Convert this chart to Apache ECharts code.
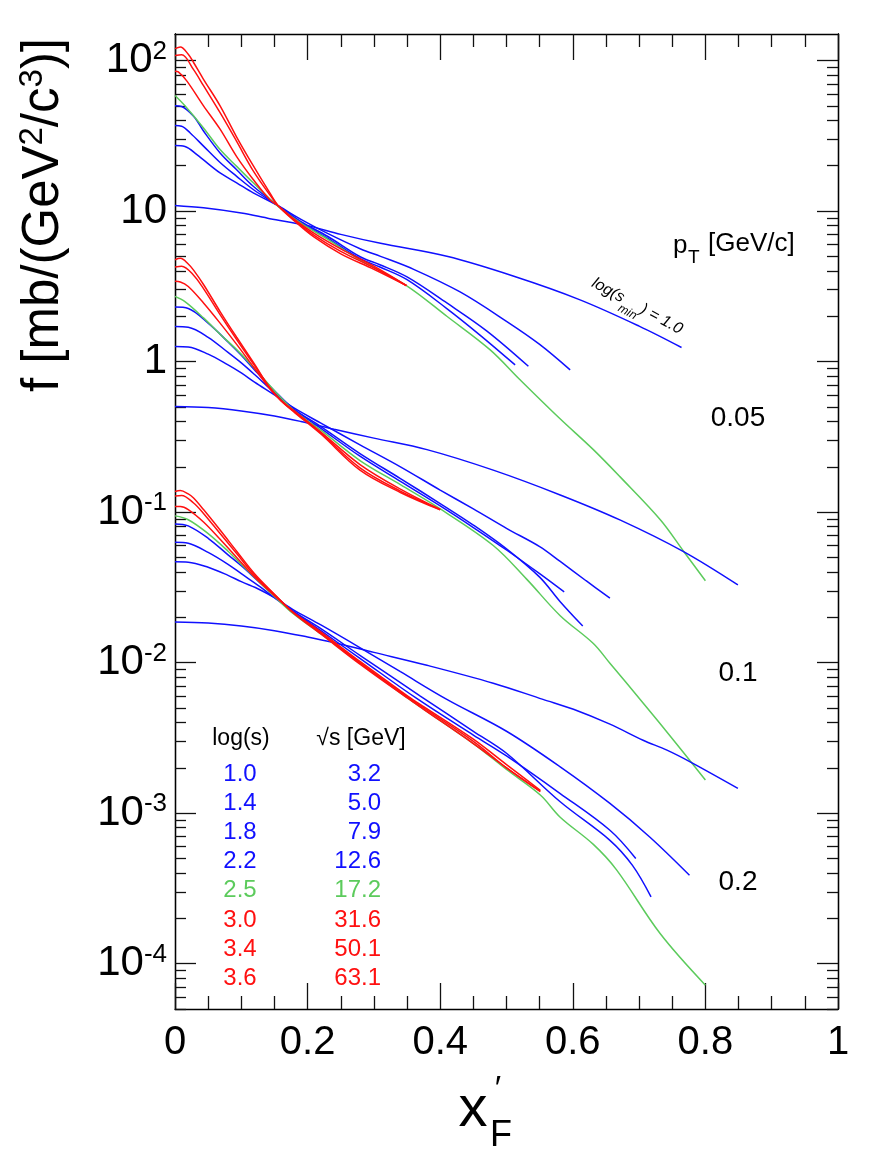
<!DOCTYPE html>
<html>
<head>
<meta charset="utf-8">
<script src="https://cdn.jsdelivr.net/npm/echarts@6/dist/echarts.min.js"></script>
<style>
  html, body { margin: 0; padding: 0; background: #fff; }
  #chart { width: 872px; height: 1160px; }
</style>
</head>
<body>
<div id="chart"></div>
<script>
// colours used by ROOT for the three energy classes
const BLUE = '#1010ff';
const GREEN = '#5ccb5c';
const RED = '#ff1010';
const FONT = 'Liberation Sans, Arial, sans-serif';

// legend table
const logsLabels = ['1.0', '1.4', '1.8', '2.2', '2.5', '3.0', '3.4', '3.6'];
const sqrtsLabels = ['3.2', '5.0', '7.9', '12.6', '17.2', '31.6', '50.1', '63.1'];
const legendColors = [BLUE, BLUE, BLUE, BLUE, GREEN, RED, RED, RED];
const ptLabels = ['0.05', '0.1', '0.2'];

// y axis ticks
const majorY = [1e-4, 1e-3, 1e-2, 1e-1, 1, 10, 100];
const minorY = [];
[-5, -4, -3, -2, -1, 0, 1].forEach(function (e) {
  for (let m = 2; m <= 9; m++) {
    const v = m * Math.pow(10, e);
    if (v >= 5e-5 && v <= 150) minorY.push(v);
  }
});

// ---- pT = 0.05 GeV/c ----
const b10_1 = [[0,10.9],[0.043,10.5],[0.1,9.7],[0.143,8.9],[0.2,8.0],[0.25,7.0],[0.31,6.1],[0.41,5.0],[0.51,3.7],[0.61,2.58],[0.70,1.72],[0.764,1.24]];
const b14_1 = [[0,27.2],[0.015,26.8],[0.033,23.7],[0.068,17.9],[0.093,15.4],[0.118,13.2],[0.156,10.8],[0.19,8.8],[0.23,7.1],[0.28,5.6],[0.31,5.0],[0.36,4.1],[0.43,2.9],[0.5,1.85],[0.55,1.3],[0.596,0.88]];
const b18_1 = [[0,37],[0.01,36.6],[0.023,33],[0.043,27],[0.068,21],[0.093,17],[0.118,13.9],[0.156,10.8],[0.19,8.5],[0.23,6.8],[0.28,4.95],[0.309,4.4],[0.35,3.65],[0.41,2.45],[0.47,1.6],[0.533,0.93]];
const b22_1 = [[0,50],[0.01,49.5],[0.028,42.6],[0.043,34],[0.068,24.3],[0.093,18.8],[0.118,14.6],[0.156,10.8],[0.19,8.4],[0.23,6.6],[0.28,4.8],[0.309,4.25],[0.35,3.5],[0.41,2.25],[0.46,1.5],[0.513,0.95]];
const g25_1 = [[0,58.5],[0.015,50],[0.043,35.6],[0.068,25.6],[0.093,19.8],[0.118,15.4],[0.156,10.7],[0.19,8.3],[0.23,6.5],[0.28,4.7],[0.349,3.2],[0.41,2.0],[0.475,1.2],[0.52,0.76],[0.58,0.42],[0.631,0.26],[0.671,0.172],[0.732,0.089],[0.767,0.055],[0.8,0.035]];
const r30_1 = [[0,85],[0.005,84],[0.018,73],[0.043,50],[0.068,35],[0.093,23],[0.118,16.2],[0.143,11.9],[0.156,10.8],[0.18,8.8],[0.21,7.1],[0.25,5.6],[0.3,4.3],[0.349,3.2]];
const r34_1 = [[0,108],[0.01,109],[0.028,87],[0.043,68],[0.068,45],[0.093,29],[0.118,18.5],[0.143,12.8],[0.156,10.8],[0.18,8.7],[0.21,6.9],[0.25,5.4],[0.3,4.2],[0.349,3.2]];
const r36_1 = [[0,120],[0.008,123],[0.02,110],[0.028,97],[0.043,75],[0.068,50],[0.093,31],[0.118,20],[0.143,13.2],[0.156,10.8],[0.18,8.6],[0.21,6.7],[0.25,5.2],[0.3,4.1],[0.349,3.2]];

// ---- pT = 0.1 GeV/c ----
const b10_2 = [[0,0.503],[0.05,0.495],[0.1,0.47],[0.15,0.435],[0.19,0.40],[0.24,0.355],[0.3,0.31],[0.38,0.26],[0.48,0.19],[0.581,0.13],[0.671,0.0887],[0.767,0.0546],[0.849,0.0328]];
const b14_2 = [[0,1.26],[0.02,1.25],[0.05,1.12],[0.08,0.95],[0.1,0.84],[0.12,0.73],[0.15,0.6],[0.18,0.49],[0.22,0.39],[0.279,0.28],[0.34,0.2],[0.4,0.14],[0.45,0.105],[0.5,0.078],[0.55,0.059],[0.581,0.047],[0.62,0.035],[0.656,0.0268]];
const b18_2 = [[0,1.71],[0.02,1.69],[0.05,1.45],[0.08,1.15],[0.1,0.98],[0.12,0.82],[0.15,0.62],[0.18,0.48],[0.22,0.37],[0.279,0.245],[0.34,0.167],[0.4,0.114],[0.45,0.082],[0.5,0.057],[0.55,0.037],[0.581,0.0254],[0.615,0.0175]];
const b22_2 = [[0,2.30],[0.02,2.25],[0.05,1.8],[0.08,1.35],[0.1,1.1],[0.12,0.88],[0.15,0.64],[0.18,0.48],[0.22,0.36],[0.279,0.235],[0.34,0.16],[0.4,0.11],[0.45,0.079],[0.5,0.056],[0.55,0.039],[0.587,0.0295]];
const g25_2 = [[0,2.71],[0.015,2.5],[0.043,1.95],[0.068,1.52],[0.093,1.2],[0.12,0.9],[0.15,0.64],[0.18,0.47],[0.22,0.35],[0.279,0.22],[0.34,0.152],[0.4,0.105],[0.48,0.06],[0.53,0.036],[0.581,0.0205],[0.631,0.0134],[0.656,0.0099],[0.706,0.0054],[0.752,0.00305],[0.8,0.00166]];
const r30_2 = [[0,3.41],[0.008,3.38],[0.02,3.15],[0.043,2.45],[0.068,1.8],[0.093,1.3],[0.12,0.9],[0.143,0.66],[0.16,0.55],[0.18,0.47],[0.22,0.34],[0.279,0.207],[0.34,0.142],[0.4,0.104]];
const r34_2 = [[0,4.25],[0.01,4.3],[0.028,3.75],[0.043,3.05],[0.068,2.05],[0.093,1.4],[0.12,0.94],[0.143,0.67],[0.16,0.55],[0.18,0.465],[0.22,0.335],[0.279,0.197],[0.34,0.138],[0.4,0.104]];
const r36_2 = [[0,4.75],[0.008,4.85],[0.02,4.45],[0.028,4.05],[0.043,3.25],[0.068,2.15],[0.093,1.45],[0.12,0.96],[0.143,0.67],[0.16,0.55],[0.18,0.46],[0.22,0.33],[0.279,0.19],[0.34,0.135],[0.4,0.1035]];

// ---- pT = 0.2 GeV/c ----
const b10_3 = [[0,0.0186],[0.05,0.0183],[0.1,0.0175],[0.15,0.0163],[0.2,0.0148],[0.239,0.0136],[0.3,0.0117],[0.38,0.0096],[0.48,0.0073],[0.555,0.0057],[0.601,0.0049],[0.656,0.0039],[0.706,0.00305],[0.742,0.00262],[0.777,0.00219],[0.849,0.00146]];
const b14_3 = [[0,0.0467],[0.02,0.0465],[0.05,0.043],[0.08,0.038],[0.1,0.0345],[0.128,0.0305],[0.15,0.027],[0.178,0.0225],[0.22,0.0178],[0.28,0.0125],[0.34,0.0087],[0.41,0.0057],[0.5,0.0035],[0.581,0.00203],[0.656,0.00116],[0.716,0.000695],[0.776,0.000387]];
const b18_3 = [[0,0.063],[0.02,0.062],[0.05,0.054],[0.08,0.045],[0.1,0.039],[0.128,0.032],[0.15,0.027],[0.178,0.022],[0.22,0.0168],[0.28,0.0111],[0.37,0.006],[0.45,0.0035],[0.5,0.0025],[0.581,0.00119],[0.656,0.00066],[0.69,0.00045],[0.718,0.000278]];
const b22_3 = [[0,0.0835],[0.02,0.081],[0.05,0.067],[0.08,0.052],[0.1,0.044],[0.128,0.034],[0.15,0.028],[0.178,0.022],[0.22,0.0163],[0.28,0.0106],[0.364,0.0058],[0.45,0.0033],[0.5,0.0024],[0.581,0.00135],[0.656,0.00077],[0.695,0.0005]];
const g25_3 = [[0,0.0944],[0.02,0.089],[0.05,0.072],[0.08,0.055],[0.1,0.045],[0.128,0.034],[0.15,0.0275],[0.178,0.0212],[0.22,0.0155],[0.28,0.0099],[0.351,0.0058],[0.45,0.0029],[0.5,0.00195],[0.551,0.00132],[0.581,0.00094],[0.631,0.00062],[0.666,0.00042],[0.732,0.000158],[0.8,0.000072]];
const r30_3 = [[0,0.109],[0.008,0.109],[0.02,0.104],[0.043,0.086],[0.068,0.066],[0.093,0.05],[0.12,0.037],[0.15,0.0278],[0.178,0.0217],[0.22,0.016],[0.28,0.0101],[0.351,0.006],[0.375,0.0051],[0.45,0.0031],[0.5,0.0021],[0.551,0.00142]];
const r34_3 = [[0,0.128],[0.01,0.129],[0.028,0.115],[0.043,0.098],[0.068,0.072],[0.093,0.053],[0.12,0.038],[0.15,0.0283],[0.178,0.0216],[0.22,0.0157],[0.28,0.0099],[0.351,0.0059],[0.375,0.005],[0.45,0.003],[0.5,0.002],[0.551,0.0014]];
const r36_3 = [[0,0.137],[0.008,0.139],[0.02,0.132],[0.028,0.124],[0.043,0.104],[0.068,0.076],[0.093,0.055],[0.12,0.039],[0.15,0.0285],[0.178,0.0215],[0.22,0.0155],[0.28,0.0097],[0.351,0.0058],[0.375,0.0049],[0.45,0.0029],[0.5,0.002],[0.551,0.00139]];

const curves = [
  [b10_1, BLUE], [b14_1, BLUE], [b18_1, BLUE], [b22_1, BLUE], [g25_1, GREEN], [r30_1, RED], [r34_1, RED], [r36_1, RED],
  [b10_2, BLUE], [b14_2, BLUE], [b18_2, BLUE], [b22_2, BLUE], [g25_2, GREEN], [r30_2, RED], [r34_2, RED], [r36_2, RED],
  [b10_3, BLUE], [b14_3, BLUE], [b18_3, BLUE], [b22_3, BLUE], [g25_3, GREEN], [r30_3, RED], [r34_3, RED], [r36_3, RED]
];

const chart = echarts.init(document.getElementById('chart'), null, { renderer: 'canvas' });

const axisLine = { show: true, lineStyle: { color: '#000', width: 1.3 } };
const tickStyle = { color: '#111', width: 1.3 };

function yLabel(v) {
  const e = Math.round(Math.log10(v));
  if (Math.abs(Math.log10(v) - e) > 1e-6) return '';
  if (e === 0) return '{b|1}';
  if (e === 1) return '{b|10}';
  return '{b|10}{s|' + e + '}';
}

function yAxisDef(pos, values, len, labels) {
  return {
    type: 'log',
    min: 5e-5,
    max: 150,
    position: pos,
    axisLine: axisLine,
    splitLine: { show: false },
    axisTick: { show: true, inside: true, length: len, customValues: values, lineStyle: tickStyle },
    axisLabel: labels ? {
      show: true,
      customValues: values,
      margin: 8,
      formatter: yLabel,
      rich: {
        b: { fontSize: 42, fontFamily: FONT, color: '#000', lineHeight: 44 },
        s: { fontSize: 26, fontFamily: FONT, color: '#000', lineHeight: 26, verticalAlign: 'top' }
      }
    } : { show: false }
  };
}

function xAxisDef(pos, labels) {
  return {
    type: 'value',
    min: 0,
    max: 1,
    interval: 0.2,
    position: pos,
    axisLine: axisLine,
    splitLine: { show: false },
    axisTick: { show: true, inside: true, length: 26, lineStyle: tickStyle },
    minorTick: { show: true, splitNumber: 4, length: 13, lineStyle: tickStyle },
    axisLabel: labels ? {
      show: true,
      margin: 14,
      fontSize: 40,
      fontFamily: FONT,
      color: '#000',
      formatter: function (v) {
        if (Math.abs(v) < 1e-9) return '0';
        if (Math.abs(v - 1) < 1e-9) return '1';
        return v.toFixed(1);
      }
    } : { show: false }
  };
}

const graphics = [];

// y axis title
graphics.push({
  type: 'text', x: 44, y: 215, rotation: Math.PI / 2,
  style: {
    text: '{a|f [mb/(GeV}{s|2}{a|/c}{s|3}{a|)]}',
    align: 'center', verticalAlign: 'middle',
    rich: {
      a: { fontSize: 51, fontFamily: FONT, fill: '#000', lineHeight: 55 },
      s: { fontSize: 33, fontFamily: FONT, fill: '#000', lineHeight: 33, verticalAlign: 'top' }
    }
  }
});

// x axis title
graphics.push({ type: 'text', x: 473, y: 1110, style: { text: 'x', fontSize: 58, fontFamily: FONT, fill: '#000', align: 'center', verticalAlign: 'middle' } });
graphics.push({ type: 'text', x: 498, y: 1090, style: { text: '\u2032', fontSize: 34, fontFamily: FONT, fill: '#000', align: 'center', verticalAlign: 'middle' } });
graphics.push({ type: 'text', x: 501, y: 1136, style: { text: 'F', fontSize: 36, fontFamily: FONT, fill: '#000', align: 'center', verticalAlign: 'middle' } });

// pT header and values
graphics.push({ type: 'text', x: 673, y: 246, style: { text: 'p', fontSize: 26, fontFamily: FONT, fill: '#000', align: 'left', verticalAlign: 'middle' } });
graphics.push({ type: 'text', x: 688, y: 258, style: { text: 'T', fontSize: 19, fontFamily: FONT, fill: '#000', align: 'left', verticalAlign: 'middle' } });
graphics.push({ type: 'text', x: 708, y: 244, style: { text: '[GeV/c]', fontSize: 26, fontFamily: FONT, fill: '#000', align: 'left', verticalAlign: 'middle' } });
const ptY = [418, 673, 882];
ptLabels.forEach(function (t, i) {
  graphics.push({ type: 'text', x: 738, y: ptY[i], style: { text: t, fontSize: 28, fontFamily: FONT, fill: '#000', align: 'center', verticalAlign: 'middle' } });
});

// curve annotation
graphics.push({
  type: 'group', x: 593, y: 282, rotation: -0.5,
  children: [
    { type: 'text', x: 0, y: 0, style: { text: 'log(s', fontSize: 16, fontStyle: 'italic', fontFamily: FONT, fill: '#000', align: 'left', verticalAlign: 'middle' } },
    { type: 'text', x: 35, y: 10, style: { text: 'min', fontSize: 12, fontStyle: 'italic', fontFamily: FONT, fill: '#000', align: 'left', verticalAlign: 'middle' } },
    { type: 'text', x: 55, y: 0, style: { text: ') = 1.0', fontSize: 16, fontStyle: 'italic', fontFamily: FONT, fill: '#000', align: 'left', verticalAlign: 'middle' } }
  ]
});

// legend table
graphics.push({ type: 'text', x: 241, y: 739, style: { text: 'log(s)', fontSize: 23, fontFamily: FONT, fill: '#000', align: 'center', verticalAlign: 'middle' } });
graphics.push({ type: 'text', x: 361, y: 739, style: { text: '\u221As [GeV]', fontSize: 23, fontFamily: FONT, fill: '#000', align: 'center', verticalAlign: 'middle' } });
logsLabels.forEach(function (t, i) {
  const y = 774 + i * 29.2;
  graphics.push({ type: 'text', x: 240, y: y, style: { text: t, fontSize: 24, fontFamily: FONT, fill: legendColors[i], align: 'center', verticalAlign: 'middle' } });
  graphics.push({ type: 'text', x: 381, y: y, style: { text: sqrtsLabels[i], fontSize: 24, fontFamily: FONT, fill: legendColors[i], align: 'right', verticalAlign: 'middle' } });
});

chart.setOption({
  animation: false,
  backgroundColor: '#fff',
  grid: { left: 175, top: 34, width: 663, height: 975, containLabel: false },
  xAxis: [xAxisDef('bottom', true), xAxisDef('top', false)],
  yAxis: [
    yAxisDef('left', majorY, 21, true),
    yAxisDef('left', minorY, 11, false),
    yAxisDef('right', majorY, 21, false),
    yAxisDef('right', minorY, 11, false)
  ],
  series: curves.map(function (c) {
    return {
      type: 'line',
      xAxisIndex: 0,
      yAxisIndex: 0,
      data: c[0],
      showSymbol: false,
      symbol: 'none',
      smooth: 0.35,
      lineStyle: { color: c[1], width: 1.5 },
      itemStyle: { color: c[1] },
      silent: true
    };
  }),
  graphic: graphics
});
</script>
</body>
</html>
